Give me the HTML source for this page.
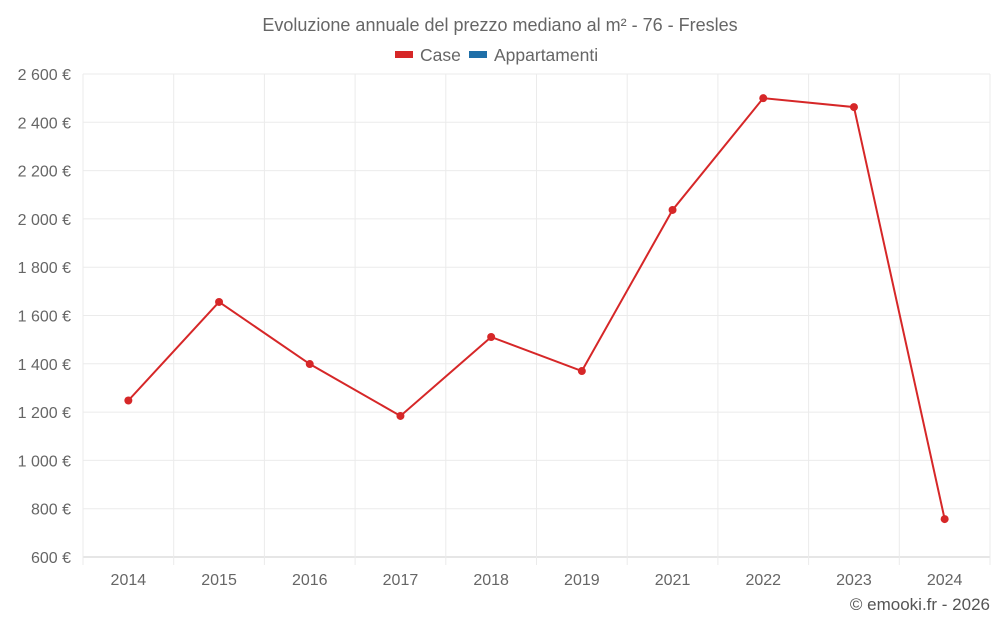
<!DOCTYPE html>
<html><head><meta charset="utf-8"><style>
body{margin:0;background:#fff;font-family:"Liberation Sans",sans-serif;}
svg text{font-family:"Liberation Sans",sans-serif;}
</style></head><body>
<svg id="chart" width="1000" height="625">
<text x="500" y="31" text-anchor="middle" font-size="18" fill="#666">Evoluzione annuale del prezzo mediano al m² - 76 - Fresles</text>
<g>
<g><rect x="395" y="51" width="18" height="7" fill="#d62728"/><text x="420" y="61" font-size="17.5" fill="#666">Case</text></g>
<g><rect x="469" y="51" width="18" height="7" fill="#1f6fa8"/><text x="494" y="61" font-size="17.5" fill="#666">Appartamenti</text></g>
</g>
<g id="grid"></g><g id="axes"></g><g id="series"></g>
<text x="990" y="610" text-anchor="end" font-size="17" fill="#555">© emooki.fr - 2026</text>
</svg>
<script>
const categories=["2014","2015","2016","2017","2018","2019","2021","2022","2023","2024"];
const caseValues=[1248,1656,1399,1184,1511,1370,2037,2500,2463,757];
const yTicks=[600,800,1000,1200,1400,1600,1800,2000,2200,2400,2600];
const yTickLabels=["600 €","800 €","1 000 €","1 200 €","1 400 €","1 600 €","1 800 €","2 000 €","2 200 €","2 400 €","2 600 €"];
const L=83,R=990,T=74,B=557,yMin=600,yMax=2600;
const NS="http://www.w3.org/2000/svg";
const band=(R-L)/categories.length;
const x=i=>L+band*(i+0.5);
const y=v=>B-(v-yMin)/(yMax-yMin)*(B-T);
function mk(tag,attrs,parent){const e=document.createElementNS(NS,tag);for(const k in attrs)e.setAttribute(k,attrs[k]);parent.appendChild(e);return e;}
const grid=document.getElementById('grid'),axes=document.getElementById('axes'),series=document.getElementById('series');
yTicks.forEach((t,i)=>{
 const ln=mk('line',{x1:L,x2:R,y1:y(t),y2:y(t),stroke:i===0?'#ccc':'#ebebeb','stroke-width':1},grid);
 
 
 const tx=mk('text',{x:71,y:y(t)+6,'text-anchor':'end','font-size':16,fill:'#666'},axes);
 tx.textContent=yTickLabels[i];
 
 
});
for(let i=0;i<=categories.length;i++){
 const gx=L+band*i;
 const ln=mk('line',{x1:gx,x2:gx,y1:T,y2:B+8,stroke:'#ebebeb','stroke-width':1},grid);
 
 
}
categories.forEach((c,i)=>{
 const tx=mk('text',{x:x(i),y:585,'text-anchor':'middle','font-size':16,fill:'#666'},axes);
 tx.textContent=c;
 
 
});
const pl=mk('polyline',{points:caseValues.map((v,i)=>x(i)+','+y(v)).join(' '),fill:'none',stroke:'#d62728','stroke-width':2},series);


caseValues.forEach((v,i)=>{
 const p=mk('circle',{cx:x(i),cy:y(v),r:4,fill:'#d62728'},series);
 
 
});
</script>
</body></html>
